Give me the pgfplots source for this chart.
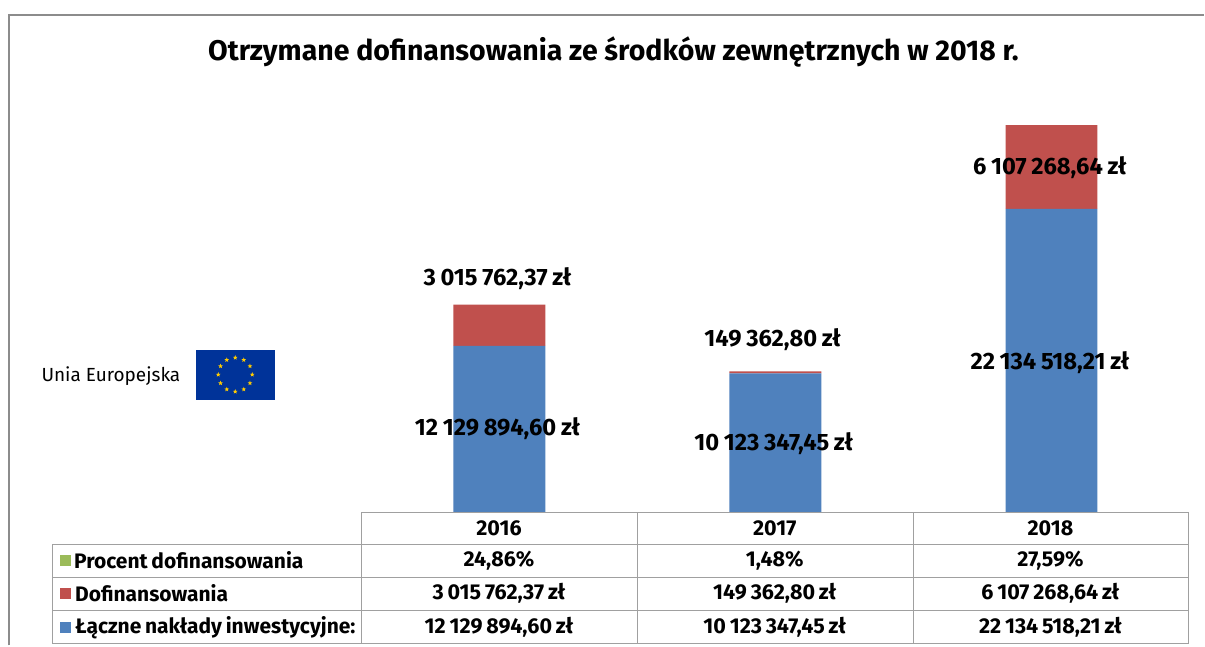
\documentclass[border=0pt]{standalone}
\usepackage{pgfplots}
\pgfplotsset{compat=1.18}
\usepackage{fontspec}
\setmainfont{Fira Sans}
\usetikzlibrary{shapes.geometric}
\definecolor{cblue}{RGB}{79,129,189}
\definecolor{cred}{RGB}{192,80,77}
\definecolor{cgreen}{RGB}{155,187,89}
\definecolor{grid}{RGB}{160,160,160}
\definecolor{frame}{RGB}{140,140,140}
\definecolor{eu}{RGB}{0,51,153}
\definecolor{starc}{RGB}{255,204,0}
\newcommand{\lab}[1]{{\fontsize{23.7}{26}\selectfont\bfseries\spaceskip=0.2em #1}}
\newcommand{\tb}[1]{{\fontsize{21.5}{24}\selectfont\bfseries\spaceskip=0.18em #1}}
\newcommand{\tl}[1]{{\fontsize{21}{24}\selectfont\bfseries\spaceskip=0.18em #1}}
\begin{document}
\begin{tikzpicture}[x=1pt,y=-1pt]
\path[fill=white] (0,0) rectangle (1205,646);
\draw[frame,line width=2.5pt] (9,646) -- (9,15) -- (1205,15);
\node[anchor=center] at (614,52.5) {\fontsize{28.5}{31}\selectfont\bfseries Otrzymane dofinansowania ze środków zewnętrznych w 2018 r.};
\node[anchor=center] at (111,376.5) {\fontsize{19}{21}\selectfont Unia Europejska};
\fill[eu] (196,350) rectangle (275,400);
\foreach \a in {0,30,...,330}{\node[star,star points=5,star point ratio=2.4,fill=starc,inner sep=0pt,minimum size=5pt,draw=none] at ({235.5+17*cos(\a)},{375+17*sin(\a)}) {};}
\begin{axis}[at={(361.7pt,-512.7pt)},anchor=south west,scale only axis,width=829pt,height=397.8pt,
  xmin=-0.5,xmax=2.5,ymin=0,ymax=29000000,hide axis,ybar stacked,bar width=92pt,clip=false]
\addplot[fill=cblue,draw=none] coordinates {(0,12129894.60) (1,10123347.45) (2,22134518.21)};
\addplot[fill=cred,draw=none] coordinates {(0,3015762.37) (1,149362.80) (2,6107268.64)};
\end{axis}
\node at (498,429.5) {\lab{12 129 894,60 zł}};
\node at (774.5,444.5) {\lab{10 123 347,45 zł}};
\node at (1051,362.5) {\lab{22 134 518,21 zł}};
\node at (498,278.5) {\lab{3 015 762,37 zł}};
\node at (773.5,339.5) {\lab{149 362,80 zł}};
\node at (1051,167.5) {\lab{6 107 268,64 zł}};
\draw[grid,line width=1.1pt] (361.7,512.7) rectangle (1190,644.5);
\draw[grid,line width=1.1pt] (52.7,544.7) rectangle (361.7,644.5);
\foreach \x in {638.2,914.2}{\draw[grid,line width=1.1pt] (\x,512.7) -- (\x,644.5);}
\foreach \y in {544.7,578,611.4}{\draw[grid,line width=1.1pt] (52.7,\y) -- (1190,\y);}
\fill[cgreen] (60.5,555.5) rectangle (71.5,566.5);
\fill[cred] (60.5,588.5) rectangle (71.5,599.5);
\fill[cblue] (60.5,622.5) rectangle (71.5,633.5);
\node[anchor=west,inner sep=0pt] at (74,561) {\tl{Procent dofinansowania}};
\node[anchor=west,inner sep=0pt] at (75,594) {\tl{Dofinansowania}};
\node[anchor=west,inner sep=0pt] at (75,628) {\tl{Łączne nakłady inwestycyjne:}};
\node at (499.5,529) {\tb{2016}};
\node at (775.5,529) {\tb{2017}};
\node at (1051.5,529) {\tb{2018}};
\node at (499.5,561) {\tb{24,86\%}};
\node at (775.5,561) {\tb{1,48\%}};
\node at (1051.5,561) {\tb{27,59\%}};
\node at (499.5,594) {\tb{3 015 762,37 zł}};
\node at (775.5,594) {\tb{149 362,80 zł}};
\node at (1051.5,594) {\tb{6 107 268,64 zł}};
\node at (499.5,628) {\tb{12 129 894,60 zł}};
\node at (775.5,628) {\tb{10 123 347,45 zł}};
\node at (1051.5,628) {\tb{22 134 518,21 zł}};
\end{tikzpicture}
\end{document}
